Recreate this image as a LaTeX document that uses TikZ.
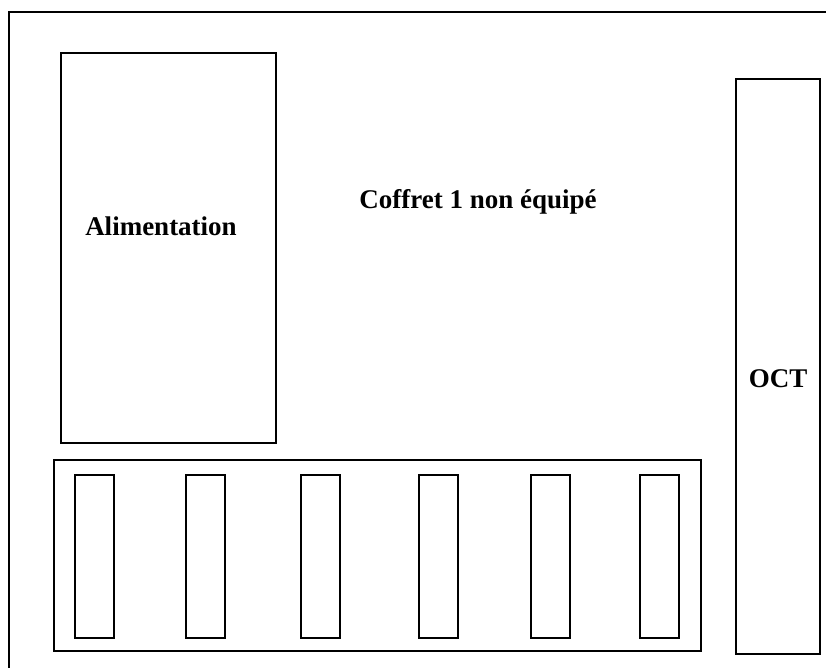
\documentclass[tikz,border=0pt]{standalone}
\usepackage{fontspec}
\setmainfont{Liberation Serif}
\begin{document}
\begin{tikzpicture}[x=1pt,y=-1pt,
  box/.style={draw=black,line width=2pt,rectangle,inner sep=0pt,anchor=north west},
  slotbox/.style={box,minimum width=39pt,minimum height=163pt},
  lbl/.style={font=\bfseries\fontsize{27}{30}\selectfont,inner sep=0pt,anchor=base}]
\useasboundingbox (0,0) rectangle (826,668);
\coordinate (fa) at (9,668);
\coordinate (fb) at (9,12);
\coordinate (fc) at (826,12);
\draw[line width=2pt] (fa) -- (fb) -- (fc);
\node[box,minimum width=215pt,minimum height=390pt] (alim) at (60,52) {};
\node[lbl] (alimt) at (161,236) {Alimentation};
\node[lbl] (coffret) at (478,208) {Coffret 1 non équipé};
\node[box,minimum width=84pt,minimum height=575pt] (oct) at (735,78) {};
\node[lbl] (octt) at (778,387) {OCT};
\node[box,minimum width=647pt,minimum height=191pt] (rack) at (53,459) {};
\node[slotbox] (s1) at (74,474) {};
\node[slotbox] (s2) at (185,474) {};
\node[slotbox] (s3) at (300,474) {};
\node[slotbox] (s4) at (418,474) {};
\node[slotbox] (s5) at (530,474) {};
\node[slotbox] (s6) at (639,474) {};
\end{tikzpicture}
\end{document}
